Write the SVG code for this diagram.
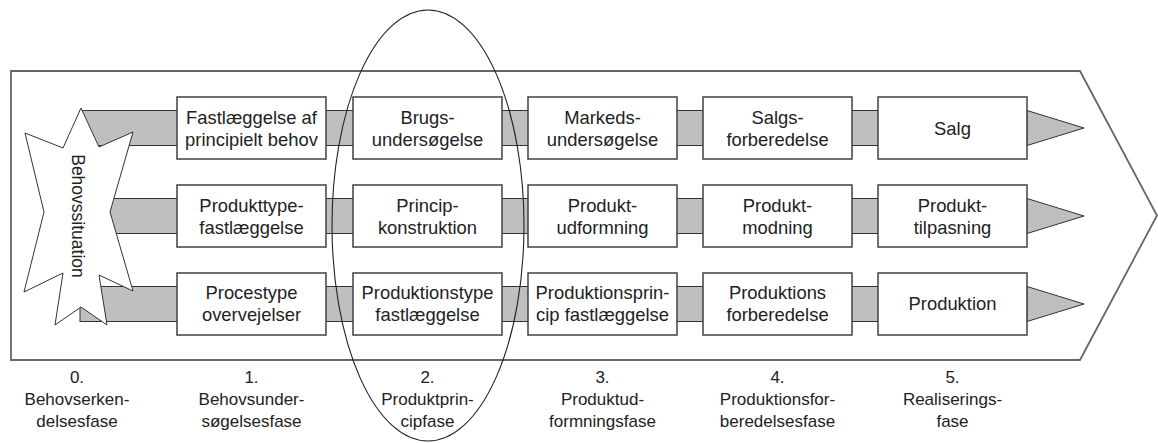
<svg xmlns="http://www.w3.org/2000/svg" width="1158" height="443" viewBox="0 0 1158 443">
<style>
  .frame{fill:#ffffff;stroke:#666666;stroke-width:1.8}
  .bar{fill:#bfbfbf;stroke:#333333;stroke-width:1}
  .box{fill:#ffffff;stroke:#404040;stroke-width:1.5}
  .star{fill:#ffffff;stroke:#333333;stroke-width:1}
  .t{font-family:"Liberation Sans",Arial,sans-serif;font-size:18.4px;fill:#222222;text-anchor:middle}
  .lbl{font-family:"Liberation Sans",Arial,sans-serif;font-size:17px;fill:#222222;text-anchor:middle}
  .ell{fill:none;stroke:#222222;stroke-width:1.1}
</style>
<rect width="1158" height="443" fill="#ffffff"/>
<g id="frame">
  <polygon class="frame" points="11,71 1080,71 1157,215.5 1080,360 11,360"/>
</g>
<g id="connectors">
  <rect class="bar" x="80" y="110.5" width="947" height="35"/>
  <rect class="bar" x="80" y="198.5" width="947" height="35"/>
  <rect class="bar" x="80" y="286.5" width="947" height="35"/>
  <polygon class="bar" points="1027,110.5 1084,128 1027,145.5"/>
  <polygon class="bar" points="1027,198.5 1084,216 1027,233.5"/>
  <polygon class="bar" points="1027,286.5 1084,304 1027,321.5"/>
</g>
<g id="star">
  <polygon class="star" points="81,108 99,147 133,132 110,212 133,291 99,275 107,325 81,307 55,325 63,273 24,292 44,212 25,133 63,148"/>
  <text class="t" style="font-size:17.5px" transform="translate(72,216) rotate(90)" x="0" y="0">Behovssituation</text>
</g>
<g id="r1c1"><rect class="box" x="177" y="97" width="149" height="62"/><text class="t" x="251.5" y="123.5">Fastlæggelse af</text><text class="t" x="251.5" y="145.5">principielt behov</text></g>
<g id="r1c2"><rect class="box" x="353" y="97" width="149" height="62"/><text class="t" x="427.5" y="123.5">Brugs-</text><text class="t" x="427.5" y="145.5">undersøgelse</text></g>
<g id="r1c3"><rect class="box" x="528" y="97" width="149" height="62"/><text class="t" x="602.5" y="123.5">Markeds-</text><text class="t" x="602.5" y="145.5">undersøgelse</text></g>
<g id="r1c4"><rect class="box" x="703" y="97" width="149" height="62"/><text class="t" x="777.5" y="123.5">Salgs-</text><text class="t" x="777.5" y="145.5">forberedelse</text></g>
<g id="r1c5"><rect class="box" x="878" y="97" width="149" height="62"/><text class="t" x="952.5" y="134.5">Salg</text></g>
<g id="r2c1"><rect class="box" x="177" y="185" width="149" height="62"/><text class="t" x="251.5" y="211.5">Produkttype-</text><text class="t" x="251.5" y="233.5">fastlæggelse</text></g>
<g id="r2c2"><rect class="box" x="353" y="185" width="149" height="62"/><text class="t" x="427.5" y="211.5">Princip-</text><text class="t" x="427.5" y="233.5">konstruktion</text></g>
<g id="r2c3"><rect class="box" x="528" y="185" width="149" height="62"/><text class="t" x="602.5" y="211.5">Produkt-</text><text class="t" x="602.5" y="233.5">udformning</text></g>
<g id="r2c4"><rect class="box" x="703" y="185" width="149" height="62"/><text class="t" x="777.5" y="211.5">Produkt-</text><text class="t" x="777.5" y="233.5">modning</text></g>
<g id="r2c5"><rect class="box" x="878" y="185" width="149" height="62"/><text class="t" x="952.5" y="211.5">Produkt-</text><text class="t" x="952.5" y="233.5">tilpasning</text></g>
<g id="r3c1"><rect class="box" x="177" y="273" width="149" height="62"/><text class="t" x="251.5" y="299">Procestype</text><text class="t" x="251.5" y="321">overvejelser</text></g>
<g id="r3c2"><rect class="box" x="353" y="273" width="149" height="62"/><text class="t" x="427.5" y="299">Produktionstype</text><text class="t" x="427.5" y="321">fastlæggelse</text></g>
<g id="r3c3"><rect class="box" x="528" y="273" width="149" height="62"/><text class="t" x="602.5" y="299">Produktionsprin-</text><text class="t" x="602.5" y="321">cip fastlæggelse</text></g>
<g id="r3c4"><rect class="box" x="703" y="273" width="149" height="62"/><text class="t" x="777.5" y="299">Produktions</text><text class="t" x="777.5" y="321">forberedelse</text></g>
<g id="r3c5"><rect class="box" x="878" y="273" width="149" height="62"/><text class="t" x="952.5" y="310">Produktion</text></g>
<g id="phase-labels">
  <text class="lbl" x="77" y="383">0.</text><text class="lbl" x="77" y="405">Behovserken-</text><text class="lbl" x="77" y="427">delsesfase</text>
  <text class="lbl" x="251.5" y="383">1.</text><text class="lbl" x="251.5" y="405">Behovsunder-</text><text class="lbl" x="251.5" y="427">søgelsesfase</text>
  <text class="lbl" x="427.5" y="383">2.</text><text class="lbl" x="427.5" y="405">Produktprin-</text><text class="lbl" x="427.5" y="427">cipfase</text>
  <text class="lbl" x="602.5" y="383">3.</text><text class="lbl" x="602.5" y="405">Produktud-</text><text class="lbl" x="602.5" y="427">formningsfase</text>
  <text class="lbl" x="777.5" y="383">4.</text><text class="lbl" x="777.5" y="405">Produktionsfor-</text><text class="lbl" x="777.5" y="427">beredelsesfase</text>
  <text class="lbl" x="952.5" y="383">5.</text><text class="lbl" x="952.5" y="405">Realiserings-</text><text class="lbl" x="952.5" y="427">fase</text>
</g>
<g id="highlight">
  <ellipse class="ell" cx="428" cy="225.5" rx="96" ry="215.5"/>
</g>
</svg>
